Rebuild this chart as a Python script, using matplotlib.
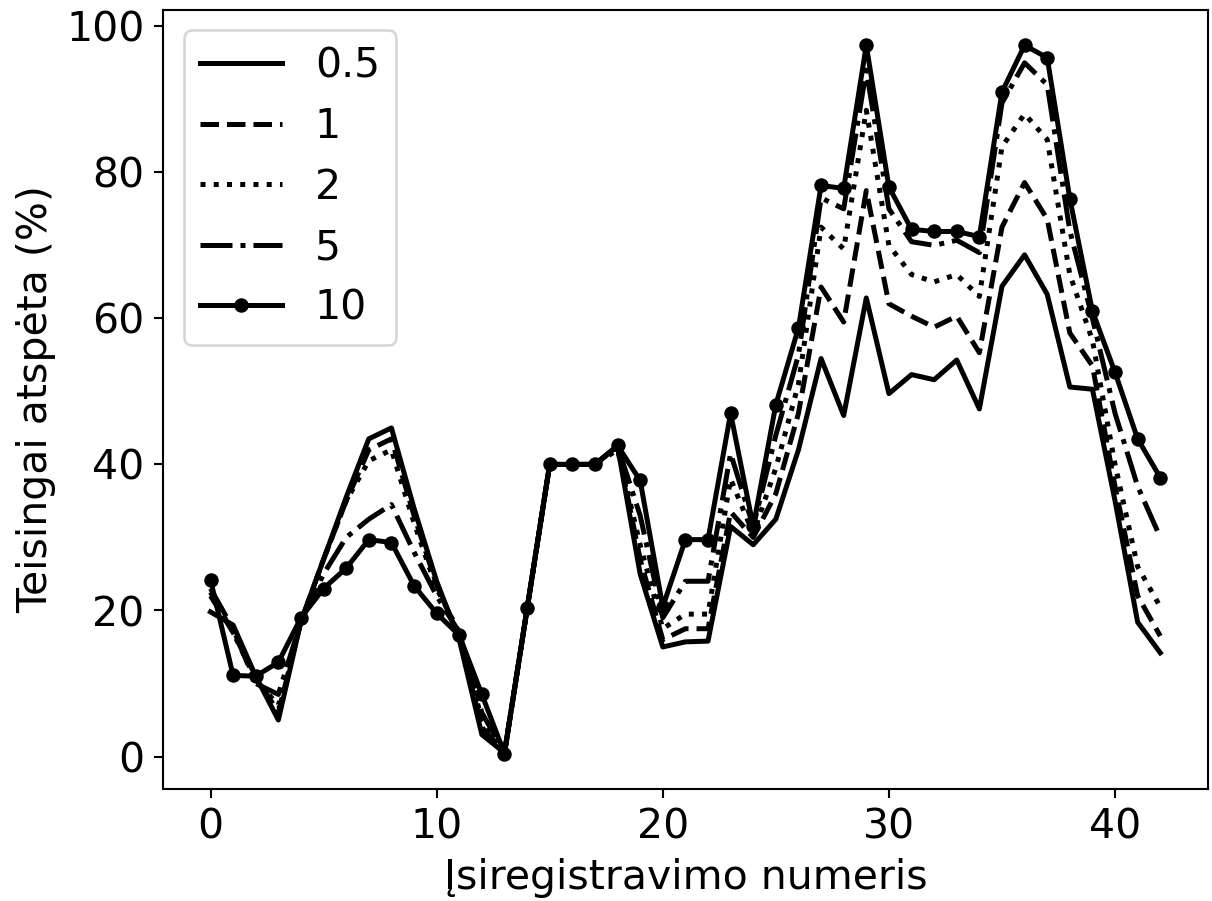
"""Correct-guess rate per check-in number, for several tolerance levels."""

import matplotlib

matplotlib.use("Agg")
import matplotlib.pyplot as plt

plt.rcParams.update({"font.size": 15.6, "font.family": "DejaVu Sans",
                     "lines.linewidth": 1.9})

checkins = list(range(43))

tol_05 = [19.8, 18, 11, 5, 18.5, 27, 35.5, 43.5, 45, 34, 24, 16, 3, 0.5, 20.2,
          40, 40, 40, 42.5, 25, 15, 15.7, 15.8, 31.5, 29, 32.5, 42, 54.5, 46.7,
          62.8, 49.7, 52.3, 51.6, 54.3, 47.6, 64.4, 68.7, 63.3, 50.6, 50.3, 35,
          18.4, 14.2]
tol_1 = [22, 17, 11, 6, 18.5, 27, 35, 42, 43.5, 33, 23.5, 16.5, 4, 0.5, 20.2,
         40, 40, 40, 42.5, 27, 16, 17.5, 17.5, 33.5, 30, 36, 47, 64.3, 59.5,
         77.5, 62, 60.3, 58.8, 60.3, 55.3, 72.5, 78.6, 73.6, 58, 53.5, 37,
         22, 16.5]
tol_2 = [22.5, 17, 10.5, 7, 18.5, 27, 35, 40.5, 42, 32, 23, 17, 5, 0.5, 20.2,
         40, 40, 40, 42, 29, 17.5, 19.5, 19.5, 38, 30.5, 39.5, 51, 72.5, 69.5,
         88.5, 70, 66, 65, 66, 63, 83.5, 88, 84.5, 66, 57, 40, 26, 20.5]
tol_5 = [23, 17.5, 10, 8.5, 18.5, 25, 30, 32.5, 34.5, 28, 22, 17, 6, 0.5, 20.2,
         40, 40, 40, 42.5, 33, 19, 24, 24, 41.5, 31.5, 44, 55, 76.5, 75, 94,
         75, 70.5, 70, 70.7, 69, 89.5, 95, 92, 72, 60, 47, 37, 30]
tol_10 = [24.2, 11.1, 11, 12.9, 19, 23, 25.8, 29.7, 29.3, 23.4, 19.6, 16.6, 8.5,
          0.4, 20.3, 40, 40, 40, 42.6, 37.8, 20.5, 29.7, 29.7, 47, 31.5, 48.2,
          58.7, 78.2, 77.8, 97.4, 78, 72.2, 71.9, 71.9, 71.2, 91, 97.4, 95.7,
          76.4, 61, 52.6, 43.5, 38.2]

fig = plt.figure(figsize=(6.4, 4.758), dpi=189.375)
ax = fig.add_axes([0.1345, 0.1243, 0.862, 0.8647])

ax.plot(checkins, tol_05, "-", color="black", label="0.5")
ax.plot(checkins, tol_1, "--", color="black", label="1")
ax.plot(checkins, tol_2, ":", color="black", label="2")
ax.plot(checkins, tol_5, "-.", color="black", label="5")
ax.plot(checkins, tol_10, "-", marker="o", markersize=4.5, color="black", label="10")

ax.set_xticks([0, 10, 20, 30, 40])
ax.set_yticks([0, 20, 40, 60, 80, 100])
ax.set_xlabel("Įsiregistravimo numeris")
ax.set_ylabel("Teisingai atspėta (%)")
ax.legend(loc="upper left")

fig.savefig("out.png", dpi=189.375)
